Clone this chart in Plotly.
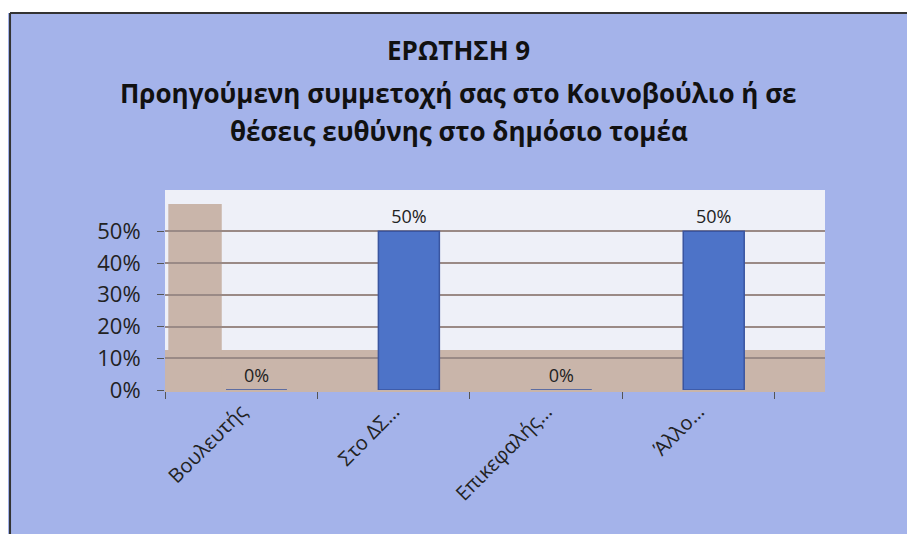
import plotly.graph_objects as go

categories = ["Βουλευτής", "Στο ΔΣ…", "Επικεφαλής…", "Άλλο…"]
values = [0.0, 0.5, 0.0, 0.5]
title_lines = ["ΕΡΩΤΗΣΗ 9",
               "Προηγούμενη συμμετοχή σας στο Κοινοβούλιο ή σε",
               "θέσεις ευθύνης στο δημόσιο τομέα"]
tick_vals = [0, 0.1, 0.2, 0.3, 0.4, 0.5]
tick_text = ["0%", "10%", "20%", "30%", "40%", "50%"]

labels = [f"{v:.0%}" for v in values]

BG = "#a4b3ea"
TAN = "#c9b5aa"

fig = go.Figure()
fig.add_trace(go.Bar(
    x=categories, y=values,
    width=0.4, offset=-0.1,
    marker=dict(color="#4d73c8", line=dict(color="#3a55a0", width=1.5)),
    text=labels, textposition="outside", cliponaxis=False,
    textfont=dict(family="Open Sans", size=18, color="#222222"),
))

title_y = [1.70, 1.485, 1.295]
annotations = [dict(text=t, xref="paper", yref="paper", x=0.445, y=yy,
                    xanchor="center", yanchor="middle", showarrow=False,
                    font=dict(family="Open Sans", size=26, color="#111111", weight="bold"))
               for t, yy in zip(title_lines, title_y)]

shapes = [
    # floor and left wall of the chart box
    dict(type="rect", xref="paper", yref="paper", x0=0, x1=1, y0=0, y1=0.2,
         fillcolor=TAN, line=dict(width=0), layer="between"),
    dict(type="rect", xref="paper", yref="paper", x0=0.005, x1=0.086, y0=0, y1=0.93,
         fillcolor=TAN, line=dict(width=0), layer="between"),
    # white strip above the frame
    dict(type="rect", xref="paper", yref="paper", x0=-0.25, x1=1.15, y0=1.885, y1=1.95,
         fillcolor="white", line=dict(width=0), layer="above"),
    # frame lines
    dict(type="line", xref="paper", yref="paper", x0=-0.2348, x1=-0.2348, y0=-0.8, y1=1.885,
         line=dict(color="#333333", width=2), layer="above"),
    dict(type="line", xref="paper", yref="paper", x0=-0.2348, x1=1.15, y0=1.885, y1=1.885,
         line=dict(color="#333333", width=2), layer="above"),
]

fig.update_layout(
    width=915, height=534,
    paper_bgcolor=BG,
    plot_bgcolor="#eef0f8",
    margin=dict(l=157, r=98, t=182, b=152, autoexpand=False),
    showlegend=False,
    annotations=annotations,
    shapes=shapes,
    xaxis=dict(
        range=[-0.5, 3.83],
        automargin=False,
        tickangle=-45,
        tickfont=dict(family="Open Sans", size=20, color="#222222"),
        showline=True, linecolor=TAN, linewidth=2,
        ticks="outside", tickson="boundaries", ticklen=7, tickcolor="#555555",
        showgrid=False,
    ),
    yaxis=dict(
        range=[0, 0.63],
        automargin=False,
        tickvals=tick_vals, ticktext=tick_text,
        tickfont=dict(family="Open Sans", size=22, color="#222222"),
        ticks="outside", ticklen=7, tickcolor="#555555",
        ticklabelstandoff=12,
        showgrid=True, gridcolor="#9a8a86", gridwidth=1.5,
        zeroline=False, showline=False,
    ),
)

fig.write_html("out.html")
